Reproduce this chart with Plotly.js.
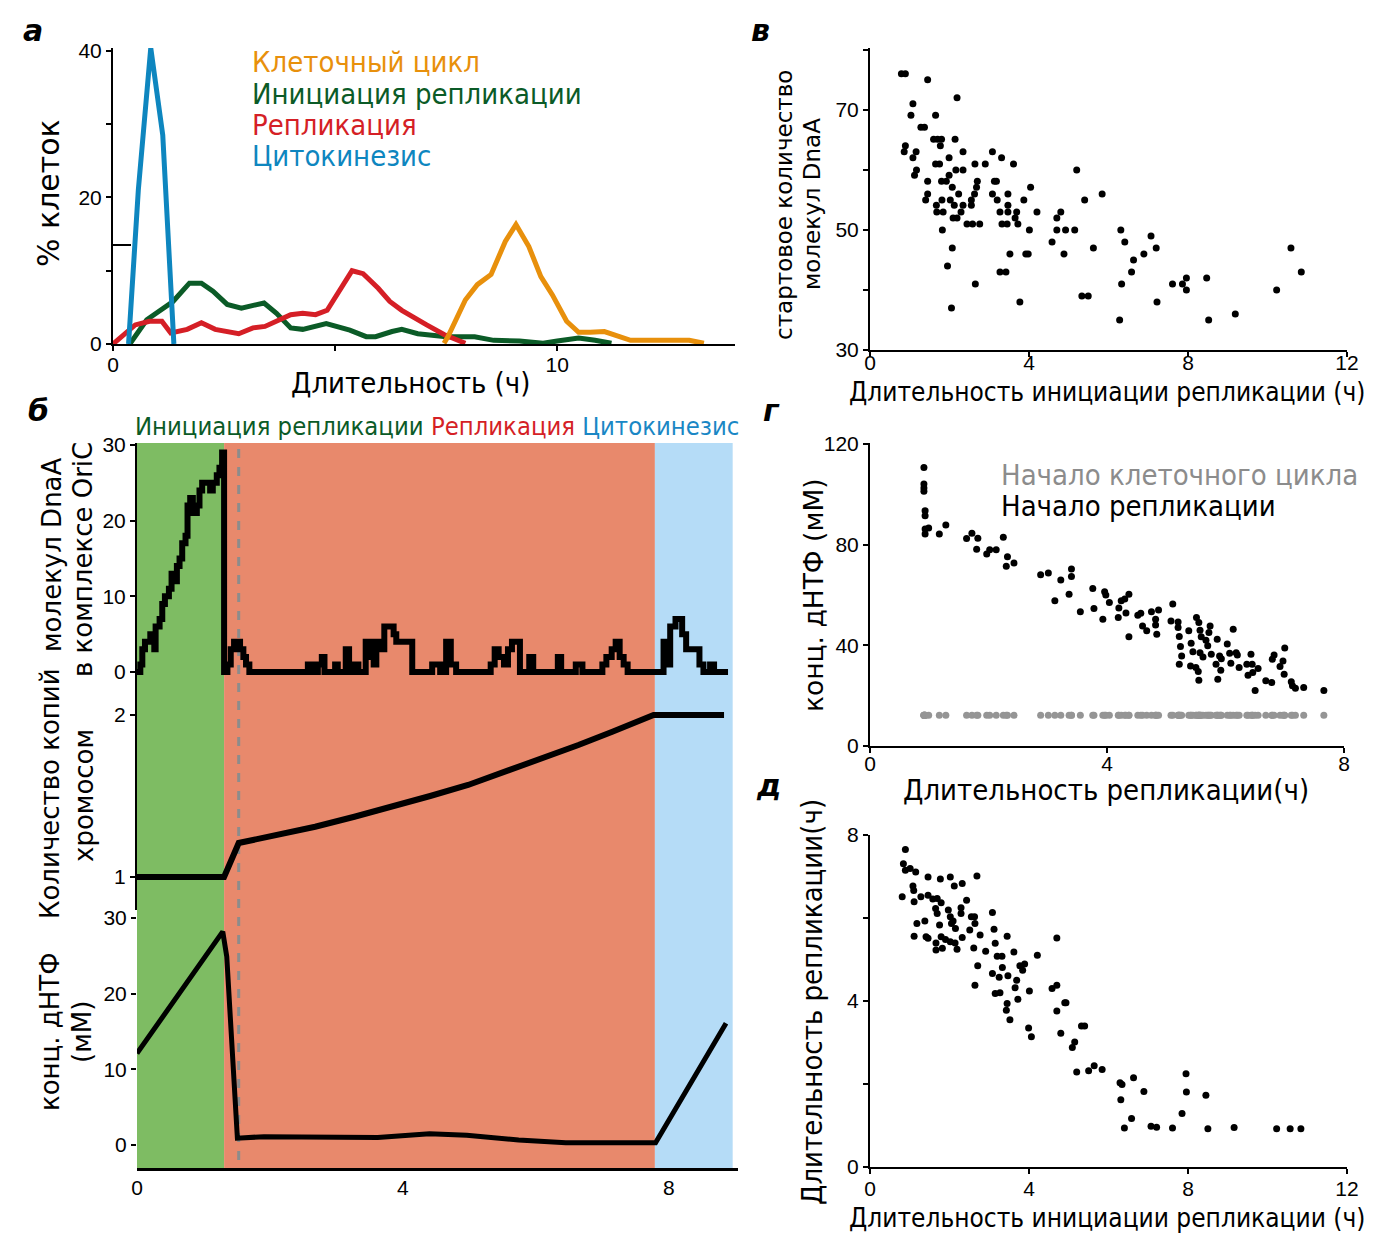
<!DOCTYPE html>
<html>
<head>
<meta charset="utf-8">
<script src="https://cdn.plot.ly/plotly-3.0.1.min.js"></script>
<style>body{margin:0;background:#fff}#chart{width:1380px;height:1246px}</style>
</head>
<body>
<div id="chart"></div>
<script>
// ---------- Panel а : distributions ----------
const cycleX = [7.45,7.54,7.93,8.2,8.51,8.83,9.07,9.36,9.63,9.89,10.21,10.48,10.74,11.06,11.65,12.34,12.66,12.97,13.3];
const cycleY = [0.1,1.0,6.0,8.1,9.5,14.0,16.3,13.3,9.2,6.7,3.1,1.6,1.6,1.7,0.5,0.5,0.6,0.5,0.1];
const initX = [0.39,0.76,1.35,1.72,1.99,2.25,2.57,2.89,3.4,3.68,4.0,4.27,4.8,5.33,5.7,5.91,6.28,6.5,6.86,7.5,8.14,8.57,9.15,9.68,10.0,10.48,10.85,11.22];
const initY = [0.1,3.3,5.8,8.3,8.3,7.2,5.4,4.9,5.6,4.2,2.2,2.0,2.8,1.9,1.0,1.0,1.7,2.0,1.4,1.0,1.0,0.5,0.4,0.1,0.4,0.8,0.5,0.1];
const replX = [0.0,0.5,0.82,1.1,1.3,1.67,1.99,2.3,2.83,3.15,3.42,4.0,4.27,4.56,4.82,5.38,5.63,5.97,6.23,6.5,7.06,7.45,7.93];
const replY = [0.0,2.6,3.1,3.1,1.5,2.0,2.9,2.0,1.4,2.2,2.4,4.0,4.2,4.0,4.6,10.0,9.6,7.6,5.8,4.6,2.6,1.3,0.1];
const cytoX = [0.35,0.57,0.85,1.12,1.37];
const cytoY = [0,21,40.4,28.5,0];

// ---------- Panel б : single cell time course ----------
const phaseNames = ["Инициация репликации","Репликация","Цитокинезис"];
const phaseStart = [0, 1.31, 7.79];
const phaseEnd = [1.31, 7.79, 8.96];
const replStartT = 1.53;
const dnaT = [0,0.05,0.08,0.12,0.2,0.26,0.28,0.34,0.38,0.42,0.48,0.52,0.58,0.6,0.64,0.68,0.73,0.76,0.8,0.84,0.9,0.94,0.98,1.1,1.14,1.2,1.24,1.28,1.31,
  1.36,1.41,1.46,1.55,1.6,1.64,1.69,2.57,2.66,2.72,2.78,2.82,2.98,3.02,3.14,3.19,3.28,3.33,3.44,3.48,3.52,3.56,3.6,3.66,3.72,3.86,3.9,4.14,
  4.44,4.56,4.65,4.72,4.8,5.32,5.38,5.44,5.52,5.58,5.64,5.76,5.9,5.96,6.33,6.38,6.6,6.7,7.0,7.06,7.14,7.2,7.26,7.32,7.38,
  7.92,7.97,8.02,8.1,8.2,8.26,8.46,8.52,8.62,8.68,8.89];
const dnaV = [0,1,3,4,5,3,6,7,9,10,11,13,12,14,15,17,18,22,23,21,22,24,25,24,25,26,27,29,0,
  1,3,4,3,2,1,0,1,0,1,2,0,1,0,3,0,1,0,4,2,4,1,4,3,6,5,4,0,
  1,0,4,1,0,1,3,2,1,3,4,0,2,0,2,0,1,0,1,2,3,4,2,1,0,
  4,1,6,7,5,3,1,0,1,0,0];
const chromT = [0,1.31,1.53,2.68,3.27,3.84,4.41,4.98,5.6,6.12,6.64,7.15,7.77,8.83];
const chromV = [1,1,1.21,1.31,1.372,1.434,1.5,1.568,1.66,1.733,1.815,1.897,2.0,2.0];
const dntpT = [0,1.29,1.35,1.51,1.91,2.9,3.62,4.4,4.96,5.74,6.45,7.8,8.86];
const dntpV = [12.1,28.2,24.9,0.9,1.1,1.1,1.0,1.5,1.3,0.66,0.3,0.3,16.1];

// ---------- Panel в ----------
const vX = [0.79,0.89,1.45,2.19,1.08,1.03,1.65,1.28,1.37,1.6,1.7,1.8,2.14,1.77,0.89,0.86,1.16,2.34,3.08,1.08,1.99,3.31,1.65,1.75,2.64,2.9,3.61,1.17,2.16,2.34,5.2,1.12,1.99,1.45,1.8,1.92,3.13,3.18,2.7,2.07,2.68,4.04,1.45,2.23,2.63,3.08,3.47,5.84,1.4,1.81,2.02,2.55,3.2,3.87,5.4,1.67,2.12,2.34,2.55,3.47,1.68,1.84,2.29,3.27,3.47,3.69,4.2,4.8,2.09,2.19,3.65,4.7,2.44,2.58,2.76,3.32,3.45,3.72,1.82,4.01,4.7,4.92,5.15,4.58,2.07,5.62,6.31,6.41,7.07,7.2,3.52,3.92,3.98,4.88,6.89,6.63,10.59,1.95,3.27,3.42,6.58,10.85,8.47,7.96,2.65,6.33,7.61,7.86,7.96,10.23,5.33,5.49,3.77,7.22,2.05,9.19,6.28,8.52];
const vY = [76,76,75,72,71,69.1,69.1,67.1,67.1,65.1,65.1,65.1,65.1,64,64,63,63,63,63,62,62,62,61,61,61,61,61,60,60,60,60,59.1,59.1,58.1,58.1,58.1,58.1,58.1,58.1,57.1,57.1,57.1,56,56,56,56,56,56,55,55,55,55,55,55,55,54.1,54.1,54.1,54.1,54.1,53,53,53,53,53,53,53,53,52,52,52,52,51,51,51,51,51,51,50,50,50,50,50,48,47,47,50,48,49,47,46,46,46,46,46,45,47,44,43,43,43,43,42,42,41,41,41,41,40,40,39,39,38,38,37,36,35,35];

// ---------- Panel г ----------
const gX = [0.91,0.91,0.91,0.91,0.93,0.93,0.93,0.93,0.99,1.17,1.28,1.63,1.72,1.82,1.80,1.97,2.02,2.13,2.25,2.32,2.30,2.43,2.88,3.01,3.22,3.40,3.40,3.36,3.12,3.55,3.76,3.78,3.93,3.96,3.98,4.04,4.19,4.20,4.24,4.30,4.37,4.32,4.37,4.52,4.57,4.60,4.67,4.75,4.82,4.82,4.84,4.87,5.08,5.11,5.20,5.20,5.22,5.24,5.26,5.22,5.38,5.42,5.45,5.41,5.51,5.55,5.57,5.59,5.50,5.54,5.55,5.57,5.62,5.67,5.70,5.72,5.74,5.76,5.84,5.86,5.87,5.90,5.93,5.92,6.03,6.07,6.09,6.13,6.18,6.23,6.20,6.36,6.38,6.43,6.45,6.46,6.50,6.55,6.68,6.78,6.79,6.82,6.92,6.97,7.00,6.99,7.11,7.13,7.18,7.32,7.66];
const gRepl = [110.7,104.1,102.5,101.2,93.5,91.5,86.2,84.2,86.6,84.2,87.8,82.5,84.5,82.6,78.2,76.3,78.0,78.0,82.9,75.2,71.4,72.7,68.0,68.7,66.0,70.3,67.4,60.3,57.7,53.3,62.6,54.6,50.4,61.3,60.0,57.0,51.1,54.8,57.7,58.4,60.3,52.8,43.4,52.0,52.7,47.7,45.8,53.3,50.4,48.1,44.4,54.0,49.7,56.4,49.3,47.1,43.5,39.5,35.8,32.5,45.8,40.8,37.5,31.8,51.1,49.1,46.0,43.4,31.2,29.6,26.1,37.1,35.4,42.0,39.8,45.1,47.7,36.5,32.5,42.4,26.5,35.8,34.7,30.1,40.5,36.9,32.9,46.4,37.1,31.2,36.2,32.5,28.1,36.5,32.5,29.2,22.1,30.8,25.9,25.2,34.5,36.2,31.6,33.8,38.9,28.5,25.5,23.9,22.9,23.2,22.1];
const gCycle = [12.2,12.2,12.2,12.2,12.2,12.2,12.2,12.2,12.2,12.2,12.2,12.2,12.2,12.2,12.2,12.2,12.2,12.2,12.2,12.2,12.2,12.2,12.2,12.2,12.2,12.2,12.2,12.2,12.2,12.2,12.2,12.2,12.2,12.2,12.2,12.2,12.2,12.2,12.2,12.2,12.2,12.2,12.2,12.2,12.2,12.2,12.2,12.2,12.2,12.2,12.2,12.2,12.2,12.2,12.2,12.2,12.2,12.2,12.2,12.2,12.2,12.2,12.2,12.2,12.2,12.2,12.2,12.2,12.2,12.2,12.2,12.2,12.2,12.2,12.2,12.2,12.2,12.2,12.2,12.2,12.2,12.2,12.2,12.2,12.2,12.2,12.2,12.2,12.2,12.2,12.2,12.2,12.2,12.2,12.2,12.2,12.2,12.2,12.2,12.2,12.2,12.2,12.2,12.2,12.2,12.2,12.2,12.2,12.2,12.2,12.2];

// ---------- Panel д ----------
const dX = [0.89,0.84,0.89,1.01,1.15,0.81,1.08,1.10,1.11,1.28,1.46,1.46,1.77,2.02,2.12,2.32,2.69,1.58,1.69,1.79,1.65,1.69,1.97,2.29,2.43,1.75,2.02,2.09,2.15,2.05,2.29,2.55,2.63,2.64,2.51,1.18,1.38,1.11,1.41,1.46,1.79,1.90,2.02,2.14,2.32,1.66,1.66,1.82,2.19,2.77,2.61,2.91,3.08,3.12,3.15,3.20,3.32,3.45,3.62,2.71,3.08,3.33,3.25,3.47,3.69,3.77,3.89,3.84,4.21,2.64,3.65,3.15,3.27,4.01,3.45,3.43,3.72,3.52,3.99,4.06,4.58,4.70,4.70,4.90,4.93,4.70,4.80,5.15,5.09,5.32,5.40,5.20,5.50,5.64,5.84,6.29,6.34,6.63,6.31,6.89,6.58,6.40,7.07,7.21,7.61,7.85,7.95,7.96,8.45,8.50,9.16,10.23,10.57,10.84];
const dY = [7.65,7.31,7.15,7.19,7.11,6.51,6.77,6.66,6.39,6.51,6.99,6.55,6.94,6.99,6.77,6.83,7.01,6.46,6.47,6.37,6.23,6.11,6.19,6.25,6.43,5.83,6.03,5.93,5.75,5.87,6.11,6.03,6.03,5.87,5.71,5.87,5.93,5.56,5.55,5.51,5.55,5.48,5.43,5.40,5.53,5.40,5.23,5.27,5.25,5.59,5.28,5.20,6.13,5.73,5.39,5.08,5.08,5.56,5.18,4.85,4.66,4.81,4.57,4.61,4.50,4.85,4.89,4.74,5.10,4.38,4.32,4.18,4.20,4.24,3.94,3.78,4.04,3.55,3.35,3.14,4.30,4.38,5.52,3.96,3.96,3.76,3.22,3.01,2.88,3.40,3.40,2.29,2.32,2.44,2.35,2.03,1.99,2.15,1.62,1.82,1.17,0.94,0.98,0.96,0.94,1.29,2.25,1.81,1.73,0.92,0.95,0.92,0.92,0.92];

// ---------- styling ----------
const W = 1380, H = 1246;
const fx = p => p / W;
const fy = p => 1 - p / H;
const TICK = "Liberation Sans, Arial, sans-serif";
const COND = "DejaVu Sans Condensed, DejaVu Sans, sans-serif";
const WIDE = "DejaVu Sans, Verdana, sans-serif";
const C_ORANGE = "#E8900C", C_GREEN = "#0B5B27", C_RED = "#D51F26", C_BLUE = "#0E86BF";

function ax(extra) {
  return Object.assign({
    showgrid: false, zeroline: false, showline: true, linecolor: "#000", linewidth: 2,
    ticks: "outside", ticklen: 5, tickwidth: 2, tickcolor: "#000",
    tickfont: {family: TICK, size: 21, color: "#000"}, fixedrange: true
  }, extra);
}

const traces = [
  {x: initX, y: initY, xaxis: "x", yaxis: "y", mode: "lines", line: {color: C_GREEN, width: 5}},
  {x: replX, y: replY, xaxis: "x", yaxis: "y", mode: "lines", line: {color: C_RED, width: 5}},
  {x: cycleX, y: cycleY, xaxis: "x", yaxis: "y", mode: "lines", line: {color: C_ORANGE, width: 5}},
  {x: cytoX, y: cytoY, xaxis: "x", yaxis: "y", mode: "lines", line: {color: C_BLUE, width: 5}, cliponaxis: false},
  {x: dnaT, y: dnaV, xaxis: "x2", yaxis: "y2", mode: "lines", line: {color: "#000", width: 6, shape: "hv"}},
  {x: chromT, y: chromV, xaxis: "x2", yaxis: "y3", mode: "lines", line: {color: "#000", width: 6}},
  {x: dntpT, y: dntpV, xaxis: "x2", yaxis: "y4", mode: "lines", line: {color: "#000", width: 5}},
  {x: vX, y: vY, xaxis: "x3", yaxis: "y5", mode: "markers", marker: {color: "#000", size: 7}},
  {x: gX, y: gCycle, xaxis: "x4", yaxis: "y6", mode: "markers", marker: {color: "#959595", size: 7}},
  {x: gX, y: gRepl, xaxis: "x4", yaxis: "y6", mode: "markers", marker: {color: "#000", size: 7}},
  {x: dX, y: dY, xaxis: "x5", yaxis: "y7", mode: "markers", marker: {color: "#000", size: 7}}
];

const phaseColors = ["#7EBC63", "#E8896C", "#B5DCF7"];
const shapes = phaseStart.map((s, i) => ({
  type: "rect", xref: "x2", yref: "paper", x0: s, x1: phaseEnd[i],
  y0: fy(1168), y1: fy(443), fillcolor: phaseColors[i], line: {width: 0}, layer: "below"
}));
shapes.push({type: "line", xref: "x2", yref: "paper", x0: replStartT, x1: replStartT,
  y0: fy(1160), y1: fy(443), line: {color: "#8C8C8C", width: 3, dash: "dash"}, layer: "below"});
shapes.push({type: "line", xref: "paper", yref: "paper", x0: fx(113), x1: fx(131),
  y0: fy(245), y1: fy(245), line: {color: "#000", width: 2}});

function ann(text, x, y, opts) {
  return Object.assign({text: text, xref: "paper", yref: "paper", x: fx(x), y: fy(y),
    showarrow: false, xanchor: "center", yanchor: "middle"}, opts);
}
const fnt = (fam, size, color) => ({family: fam, size: size, color: color || "#000"});
const panelFont = fnt(WIDE, 30);

const annotations = [
  ann("<b><i>а</i></b>", 33, 30, {font: panelFont}),
  ann("<b><i>б</i></b>", 38, 410, {font: panelFont}),
  ann("<b><i>в</i></b>", 760, 30, {font: panelFont}),
  ann("<b><i>г</i></b>", 772, 410, {font: panelFont}),
  ann("<b><i>д</i></b>", 768, 785, {font: panelFont}),
  // panel а
  ann("Клеточный цикл", 250, 62, {xanchor: "left", font: fnt(COND, 29, C_ORANGE)}),
  ann("Инициация репликации", 250, 94, {xanchor: "left", font: fnt(COND, 29, C_GREEN)}),
  ann("Репликация", 250, 125, {xanchor: "left", font: fnt(COND, 29, C_RED)}),
  ann("Цитокинезис", 250, 156, {xanchor: "left", font: fnt(COND, 29, C_BLUE)}),
  ann("Длительность (ч)", 410, 383, {font: fnt(COND, 29)}),
  ann("% клеток", 48, 193, {textangle: -90, font: fnt(WIDE, 30)}),
  // panel б
  ann('<span style="color:' + C_GREEN + '">' + phaseNames[0] + '</span> <span style="color:' + C_RED + '">' + phaseNames[1] + '</span> <span style="color:#1A87C5">' + phaseNames[2] + '</span>', 133, 426, {xanchor: "left", font: fnt(COND, 25.4)}),
  ann("молекул DnaA", 52, 555, {textangle: -90, font: fnt(WIDE, 26)}),
  ann("в комплексе OriC", 83, 560, {textangle: -90, font: fnt(WIDE, 26)}),
  ann("Количество копий", 50, 794, {textangle: -90, font: fnt(WIDE, 26)}),
  ann("хромосом", 84, 796, {textangle: -90, font: fnt(WIDE, 26)}),
  ann("конц. дНТФ", 50, 1032, {textangle: -90, font: fnt(WIDE, 26)}),
  ann("(мМ)", 82, 1032, {textangle: -90, font: fnt(WIDE, 26)}),
  // panel в
  ann("стартовое количество", 784, 205, {textangle: -90, font: fnt(WIDE, 23)}),
  ann("молекул DnaA", 812, 204, {textangle: -90, font: fnt(WIDE, 23)}),
  ann("Длительность инициации репликации (ч)", 1107, 392, {font: fnt(COND, 26)}),
  // panel г
  ann("конц. дНТФ (мМ)", 814, 595, {textangle: -90, font: fnt(WIDE, 26.5)}),
  ann("Начало клеточного цикла", 999, 475, {xanchor: "left", font: fnt(COND, 29, "#8C8C8C")}),
  ann("Начало репликации", 999, 506, {xanchor: "left", font: fnt(COND, 29)}),
  ann("Длительность репликации(ч)", 1106, 790, {font: fnt(COND, 29)}),
  // panel д
  ann("Длительность репликации(ч)", 812, 1002, {textangle: -90, font: fnt(COND, 29)}),
  ann("Длительность инициации репликации (ч)", 1107, 1218, {font: fnt(COND, 26)})
];

const layout = {
  width: W, height: H, margin: {l: 0, r: 0, t: 0, b: 0},
  paper_bgcolor: "#fff", plot_bgcolor: "rgba(0,0,0,0)", showlegend: false,
  xaxis: ax({domain: [fx(113), fx(735)], range: [0, 14.0], anchor: "y", tickvals: [0, 5, 10], ticktext: ["0", "", "10"], ticklabelstandoff: -4}),
  yaxis: ax({domain: [fy(344), fy(48)], range: [0, 40.4], anchor: "x", tickvals: [0, 10, 20, 30, 40], ticktext: ["0", "", "20", "", "40"]}),
  xaxis2: ax({domain: [fx(137), fx(738)], range: [0, 9.04], anchor: "y4", linewidth: 3, ticks: "", tickvals: [0, 4, 8], ticklabelstandoff: -1}),
  yaxis2: ax({domain: [fy(683), fy(443)], range: [-1.45, 30.26], anchor: "x2", tickvals: [0, 10, 20, 30]}),
  yaxis3: ax({domain: [fy(910), fy(683)], range: [0.796, 2.198], anchor: "x2", tickvals: [1, 2]}),
  yaxis4: ax({domain: [fy(1168), fy(912)], range: [-3.04, 30.79], anchor: "x2", tickvals: [0, 10, 20, 30], showline: false}),
  xaxis3: ax({domain: [fx(870), fx(1347)], range: [0, 12], anchor: "y5", tickvals: [0, 4, 8, 12], ticklabelstandoff: -12}),
  yaxis5: ax({domain: [fy(350), fy(48)], range: [30, 80.3], anchor: "x3", tickvals: [30, 40, 50, 60, 70, 80], ticktext: ["30", "", "50", "", "70", ""]}),
  xaxis4: ax({domain: [fx(870), fx(1344)], range: [0, 8], anchor: "y6", tickvals: [0, 4, 8], ticklabelstandoff: -7}),
  yaxis6: ax({domain: [fy(746), fy(443)], range: [0, 120.4], anchor: "x4", tickvals: [0, 40, 80, 120]}),
  xaxis5: ax({domain: [fx(870), fx(1347)], range: [0, 12], anchor: "y7", tickvals: [0, 4, 8, 12], ticklabelstandoff: -3}),
  yaxis7: ax({domain: [fy(1167), fy(835)], range: [0, 8], anchor: "x5", tickvals: [0, 2, 4, 6, 8], ticktext: ["0", "", "4", "", "8"]}),
  shapes: shapes,
  annotations: annotations
};

Plotly.newPlot("chart", traces, layout, {displayModeBar: false, staticPlot: true});
</script>
</body>
</html>
